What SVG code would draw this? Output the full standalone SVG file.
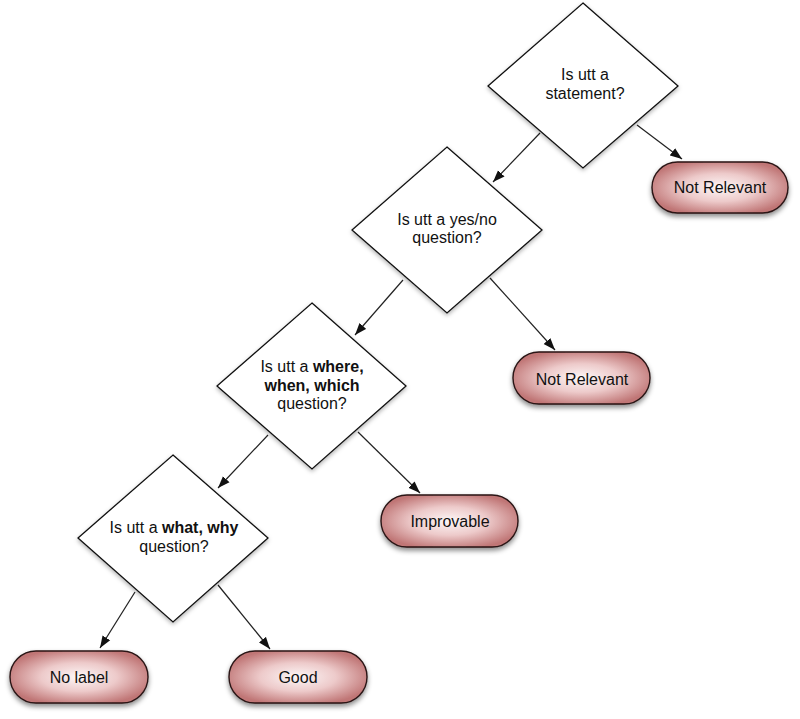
<svg xmlns="http://www.w3.org/2000/svg" width="800" height="719" viewBox="0 0 800 719">
<defs>
<radialGradient id="pillGrad" cx="50%" cy="50%" r="55%">
<stop offset="0" stop-color="#fdf7f7"/>
<stop offset="0.5" stop-color="#edcaca"/>
<stop offset="1" stop-color="#c07676"/>
</radialGradient>
<filter id="shadow" x="-20%" y="-20%" width="140%" height="150%">
<feDropShadow dx="0" dy="3" stdDeviation="2.5" flood-color="#000" flood-opacity="0.45"/>
</filter>
<filter id="dshadow" x="-20%" y="-20%" width="140%" height="140%">
<feDropShadow dx="0" dy="2" stdDeviation="2" flood-color="#000" flood-opacity="0.3"/>
</filter>
<marker id="arrow" viewBox="0 0 12 10" refX="12" refY="5" markerWidth="12" markerHeight="10" markerUnits="userSpaceOnUse" orient="auto">
<path d="M0,0.5 L12,5 L0,9.5 Z" fill="#111"/>
</marker>
</defs>
<style>
.dia{fill:#fff;stroke:#111;stroke-width:1.3;filter:url(#dshadow)}
.pill{fill:url(#pillGrad);stroke:#2a1515;stroke-width:1.4;filter:url(#shadow)}
text{font-family:"Liberation Sans",Arial,sans-serif;font-size:16px;fill:#111;text-anchor:middle}
.b{font-weight:bold}
.conn line{stroke:#222;stroke-width:1.2;marker-end:url(#arrow)}
</style>
<rect width="800" height="719" fill="#fff"/>
<g class="conn" id="connectors">
<line x1="540" y1="133" x2="493" y2="182"/>
<line x1="637" y1="125" x2="682" y2="159"/>
<line x1="403" y1="280" x2="355" y2="335"/>
<line x1="490" y1="278" x2="555" y2="350"/>
<line x1="268" y1="435" x2="218" y2="488"/>
<line x1="358" y1="432" x2="420" y2="493"/>
<line x1="135" y1="592" x2="100" y2="648"/>
<line x1="218" y1="585" x2="270" y2="649"/>
</g>
<g id="q1">
<polygon class="dia" points="583,3 678,86 583,168 488,86"/>
<text x="585" y="80">Is utt a</text>
<text x="585" y="99">statement?</text>
</g>
<g id="nr1">
<rect class="pill" x="652" y="162" width="136" height="51" rx="25.5"/>
<text x="720" y="193">Not Relevant</text>
</g>
<g id="q2">
<polygon class="dia" points="447,147 542,230 447,313 352,230"/>
<text x="447" y="225">Is utt a yes/no</text>
<text x="447" y="243">question?</text>
</g>
<g id="nr2">
<rect class="pill" x="513" y="352" width="137" height="52" rx="26"/>
<text x="582" y="385">Not Relevant</text>
</g>
<g id="q3">
<polygon class="dia" points="312,303 406,386 312,469 217,386"/>
<text x="312" y="372">Is utt a <tspan class="b">where,</tspan></text>
<text x="312" y="391" class="b">when, which</text>
<text x="312" y="409">question?</text>
</g>
<g id="improvable">
<rect class="pill" x="381" y="495" width="137" height="52" rx="26"/>
<text x="450" y="527">Improvable</text>
</g>
<g id="q4">
<polygon class="dia" points="173,455 268,538 173,622 78,538"/>
<text x="174" y="533">Is utt a <tspan class="b">what, why</tspan></text>
<text x="174" y="552">question?</text>
</g>
<g id="nolabel">
<rect class="pill" x="10" y="651" width="138" height="52" rx="26"/>
<text x="79" y="683">No label</text>
</g>
<g id="good">
<rect class="pill" x="229" y="651" width="138" height="52" rx="26"/>
<text x="298" y="683">Good</text>
</g>
</svg>
